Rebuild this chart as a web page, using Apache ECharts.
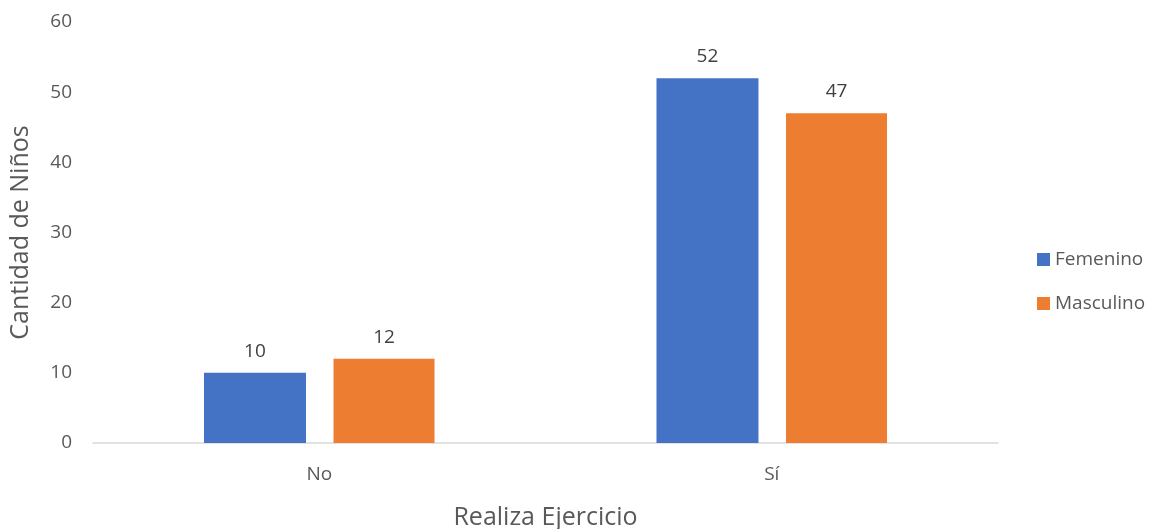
<!DOCTYPE html>
<html>
<head>
<meta charset="utf-8">
<script src="https://cdn.jsdelivr.net/npm/echarts@6/dist/echarts.min.js"></script>
<style>
  html, body { margin: 0; padding: 0; background: #fff; }
  #chart { width: 1161px; height: 529px; }
</style>
</head>
<body>
<div id="chart"></div>
<script>
// datos
var categorias = ['No', 'Sí'];
var femenino = [10, 52];
var masculino = [12, 47];
var ticksY = [0, 10, 20, 30, 40, 50, 60];

var fuente = '"Open Sans", "Noto Sans", sans-serif';
var gris = '#595959';

var myChart = echarts.init(document.getElementById('chart'));
myChart.setOption({
    animation: false,
    textStyle: { fontFamily: fuente },
    grid: { left: 93, right: 163, top: 22, bottom: 86, containLabel: false, outerBoundsMode: 'none' },
    legend: {
        orient: 'vertical',
        left: 1032,
        top: 245,
        itemWidth: 13,
        itemHeight: 13,
        itemGap: 25,
        icon: 'rect',
        textStyle: { color: gris, fontSize: 19, fontFamily: fuente },
        data: ['Femenino', 'Masculino']
    },
    xAxis: {
        type: 'category',
        data: categorias,
        name: 'Realiza Ejercicio',
        nameLocation: 'middle',
        nameGap: 62,
        nameTextStyle: { color: gris, fontSize: 25, fontFamily: fuente },
        axisLine: { lineStyle: { color: '#D9D9D9', width: 1.5 } },
        axisTick: { show: false },
        axisLabel: { color: gris, fontSize: 19, margin: 22, fontFamily: fuente }
    },
    yAxis: {
        type: 'value',
        min: ticksY[0],
        max: ticksY[ticksY.length - 1],
        interval: 10,
        name: 'Cantidad de Niños',
        nameLocation: 'middle',
        nameGap: 60,
        nameTextStyle: { color: gris, fontSize: 25, fontFamily: fuente },
        axisLine: { show: false },
        axisTick: { show: false },
        splitLine: { show: false },
        axisLabel: { color: gris, fontSize: 19, margin: 21, fontFamily: fuente }
    },
    series: [
        {
            name: 'Femenino',
            type: 'bar',
            data: femenino,
            barWidth: 102,
            barGap: '27%',
            itemStyle: { color: '#4472C4' },
            label: { show: true, position: 'top', distance: 12, color: '#404040', fontSize: 19, fontFamily: fuente }
        },
        {
            name: 'Masculino',
            type: 'bar',
            data: masculino,
            barWidth: 101,
            itemStyle: { color: '#ED7D31' },
            label: { show: true, position: 'top', distance: 12, color: '#404040', fontSize: 19, fontFamily: fuente }
        }
    ]
});
</script>
</body>
</html>
